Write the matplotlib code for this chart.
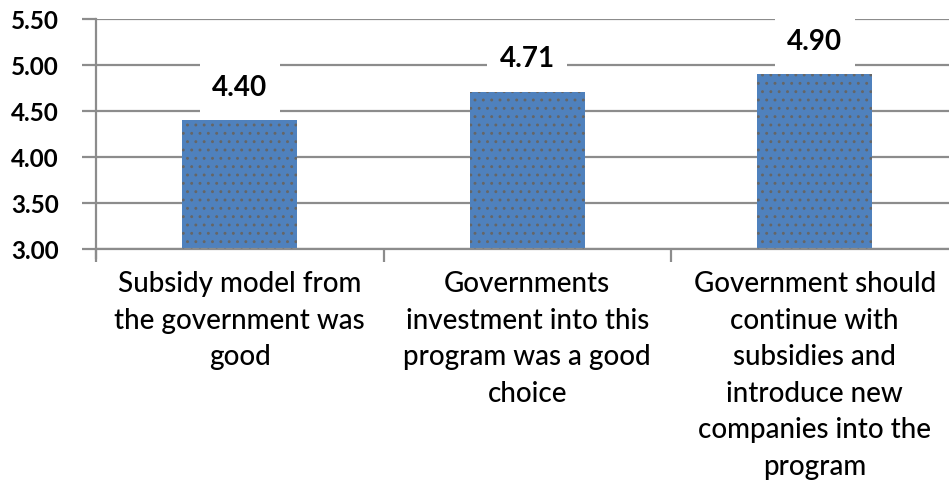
import matplotlib
matplotlib.use("Agg")
import matplotlib.pyplot as plt

categories = [
    "Subsidy model from\nthe government was\ngood",
    "Governments\ninvestment into this\nprogram was a good\nchoice",
    "Government should\ncontinue with\nsubsidies and\nintroduce new\ncompanies into the\nprogram",
]
values = [4.40, 4.71, 4.90]
value_labels = ["4.40", "4.71", "4.90"]
y_ticks = [3.00, 3.50, 4.00, 4.50, 5.00, 5.50]

W, H = 949, 495
fig = plt.figure(figsize=(W / 100, H / 100), dpi=100)
plt.rcParams["font.family"] = ["Lato", "DejaVu Sans"]
plt.rcParams["hatch.linewidth"] = 0.9
plt.rcParams["hatch.color"] = "#666666"

left, right = 96, 958.5
top, bottom = 19, 249
ax = fig.add_axes([left / W, 1 - bottom / H, (right - left) / W, (bottom - top) / H])

grid_color = "#8c8c8c"
x = list(range(len(values)))

ax.set_ylim(3.0, 5.5)
ax.set_xlim(-0.5, 2.5)
ax.set_yticks(y_ticks)
ax.set_yticklabels([f"{v:.2f}" for v in y_ticks], fontsize=17.5, fontweight="bold")
for v in y_ticks:
    ax.axhline(v, color=grid_color, lw=1.6, zorder=1)

bar_w = 0.4
ax.bar(x, [v - 3.0 for v in values], bottom=3.0, width=bar_w,
       color="#4f81bd", edgecolor="none", zorder=2)
ax.bar(x, [v - 3.0 for v in values], bottom=3.0, width=bar_w,
       color="none", edgecolor="#666666", linewidth=0, hatch="..", zorder=3)

for xi, v, lab in zip(x, values, value_labels):
    ax.text(xi, v + 0.355, lab, ha="center", va="center", fontsize=20,
            fontweight="bold", color="black", zorder=4,
            bbox=dict(boxstyle="square,pad=0.45", fc="white", ec="none"))

for s in ["top", "right"]:
    ax.spines[s].set_visible(False)
ax.spines["left"].set_color(grid_color)
ax.spines["left"].set_linewidth(1.6)
ax.spines["bottom"].set_color(grid_color)
ax.spines["bottom"].set_linewidth(1.6)
ax.spines["left"].set_bounds(2.9, 5.5)

ax.tick_params(axis="y", length=10, width=1.6, color=grid_color, pad=17)
ax.set_xticks([-0.5, 0.5, 1.5, 2.5])
ax.set_xticklabels([])
ax.tick_params(axis="x", which="major", length=9, width=1.6, color=grid_color)
ax.set_xticks(x, minor=True)
ax.set_xticklabels(categories, minor=True, fontsize=20, linespacing=1.5,
                   fontweight="medium")
ax.tick_params(axis="x", which="minor", length=0, pad=16)

fig.savefig("out.png", dpi=100)
